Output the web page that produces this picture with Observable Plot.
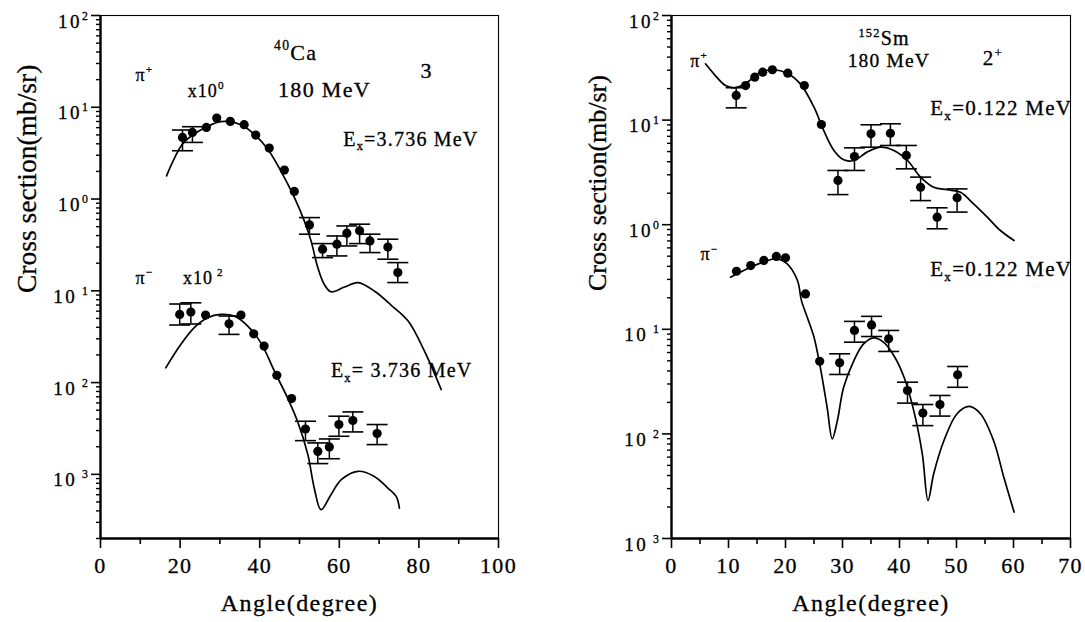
<!DOCTYPE html>
<html>
<head>
<meta charset="utf-8">
<script src="https://cdn.jsdelivr.net/npm/d3@7"></script>
<script src="https://cdn.jsdelivr.net/npm/@observablehq/plot@0.6"></script>
<style>
  body { margin: 0; background: #fff; }
  #fig { position: relative; width: 1085px; height: 622px; background: #fff; }
  #fig svg { position: absolute; top: 0; }
  #fig svg text { font-family: "Liberation Serif", "DejaVu Serif", serif; stroke: black; stroke-width: 0.3px; }
</style>
</head>
<body>
<div id="fig"></div>
<script>
// ---------- 40Ca, 180 MeV, 3- state (Ex = 3.736 MeV) ----------
const caPlusAngle = [20.6, 23.1, 26.6, 29.2, 32.6, 36.1, 39.0, 42.4, 46.2, 48.7, 52.5, 55.8, 59.4, 61.9, 65.1, 67.7, 72.2, 74.7];
const caPlusValue = [4.69, 5.32, 6.03, 7.64, 7.02, 6.46, 4.98, 3.59, 2.07, 1.21, 0.523, 0.284, 0.322, 0.425, 0.45, 0.35, 0.30, 0.158];
const caPlusErrAngle = [20.6, 23.1, 52.5, 55.8, 59.4, 61.9, 65.1, 67.7, 72.2, 74.7];
const caPlusErrLow   = [3.36, 4.14, 0.414, 0.230, 0.240, 0.308, 0.327, 0.261, 0.221, 0.123];
const caPlusErrHigh  = [5.65, 6.14, 0.628, 0.327, 0.396, 0.509, 0.532, 0.414, 0.365, 0.203];
const caPlusCurveAngle = [16.6, 20.6, 23.5, 26.4, 30.2, 35.3, 39.0, 42.0, 45.3, 48.7, 51.2, 52.9, 54.6, 56.2, 57.9, 61.3, 64.7, 68.8, 73.0, 77.3, 81.4, 85.6];
const caPlusCurveValue = [1.79, 3.97, 5.11, 6.03, 6.96, 6.46, 4.90, 3.51, 2.03, 1.04, 0.578, 0.350, 0.179, 0.118, 0.0977, 0.110, 0.123, 0.0995, 0.070, 0.0468, 0.0220, 0.0084];

const caMinusAngle = [19.9, 22.7, 26.4, 32.3, 35.3, 38.5, 41.1, 44.3, 48.0, 51.5, 54.6, 57.5, 59.9, 63.4, 69.5];
const caMinusValue = [0.0553, 0.0587, 0.0544, 0.0437, 0.0544, 0.0340, 0.0250, 0.0120, 0.0067, 0.00312, 0.00178, 0.00199, 0.00349, 0.00386, 0.00278];
const caMinusErrAngle = [19.9, 22.7, 32.3, 51.5, 54.6, 57.5, 59.9, 63.4, 69.5];
const caMinusErrLow   = [0.0424, 0.0435, 0.0335, 0.00233, 0.00131, 0.00148, 0.00260, 0.00290, 0.00211];
const caMinusErrHigh  = [0.0718, 0.0740, 0.0531, 0.00379, 0.00220, 0.00243, 0.00430, 0.00479, 0.00349];
const caMinusCurveAngle = [16.4, 20.2, 23.5, 26.9, 30.2, 33.6, 37.0, 40.3, 43.7, 47.0, 49.5, 52.1, 53.7, 55.4, 57.9, 60.5, 64.7, 68.8, 72.2, 74.3, 75.1];
const caMinusCurveValue = [0.01446, 0.0261, 0.0395, 0.0508, 0.0553, 0.0531, 0.0413, 0.0271, 0.0133, 0.00681, 0.00379, 0.00164, 0.00071, 0.000412, 0.0006, 0.000875, 0.00108, 0.00095, 0.00071, 0.000575, 0.000428];

// ---------- 152Sm, 180 MeV, 2+ state (Ex = 0.122 MeV) ----------
const smPlusAngle = [11.35, 13.0, 14.6, 16.0, 17.7, 20.4, 23.3, 26.3, 29.2, 32.1, 35.0, 38.4, 41.2, 43.7, 46.6, 50.1];
const smPlusValue = [17.2, 21.4, 25.7, 28.7, 30.3, 28.1, 21.4, 9.08, 2.65, 4.49, 7.39, 7.49, 4.59, 2.28, 1.18, 1.81];
const smPlusErrAngle = [11.35, 29.2, 32.1, 35.0, 38.4, 41.2, 43.7, 46.6, 50.1];
const smPlusErrLow   = [13.1, 1.94, 3.30, 5.51, 5.72, 3.42, 1.70, 0.914, 1.32];
const smPlusErrHigh  = [20.4, 3.30, 5.43, 9.02, 9.22, 5.72, 2.85, 1.45, 2.20];
const smPlusCurveAngle = [5.96, 7.42, 9.47, 11.2, 13.3, 15.6, 17.9, 20.3, 22.6, 25.0, 26.7, 28.5, 30.2, 32.0, 34.3, 36.7, 39.0, 41.4, 43.7, 46.0, 48.4, 50.7, 53.0, 55.4, 57.7, 60.1];
const smPlusCurveValue = [34.5, 27.7, 21.4, 20.4, 23.0, 28.7, 30.3, 28.1, 22.2, 13.3, 7.96, 5.12, 4.17, 4.11, 4.94, 5.51, 5.12, 4.11, 2.85, 2.28, 2.16, 2.04, 1.58, 1.18, 0.88, 0.706];

const smMinusAngle = [11.4, 13.9, 16.2, 18.4, 20.0, 23.5, 26.0, 29.5, 32.1, 35.1, 38.1, 41.4, 44.1, 47.1, 50.2];
const smMinusValue = [0.359, 0.407, 0.455, 0.497, 0.483, 0.218, 0.0495, 0.0478, 0.0975, 0.110, 0.0811, 0.0260, 0.0158, 0.0191, 0.0367];
const smMinusErrAngle = [29.5, 32.1, 35.1, 38.1, 41.4, 44.1, 47.1, 50.2];
const smMinusErrLow   = [0.0370, 0.0753, 0.0853, 0.0614, 0.0197, 0.0120, 0.0148, 0.0279];
const smMinusErrHigh  = [0.0583, 0.119, 0.133, 0.0975, 0.0312, 0.0191, 0.0233, 0.0441];
const smMinusCurveAngle = [10.35, 13.3, 16.2, 18.5, 20.3, 22.1, 22.8, 23.8, 25.0, 26.1, 27.3, 28.2, 29.1, 30.2, 32.0, 33.7, 35.5, 37.2, 39.0, 40.8, 42.5, 44.0, 45.0, 46.0, 47.8, 50.1, 52.2, 54.2, 56.5, 58.3, 60.1];
const smMinusCurveValue = [0.315, 0.379, 0.442, 0.472, 0.423, 0.293, 0.188, 0.131, 0.0841, 0.0435, 0.0180, 0.00898, 0.0134, 0.0279, 0.0503, 0.0726, 0.0829, 0.0753, 0.0562, 0.0348, 0.0167, 0.00645, 0.00231, 0.00416, 0.00865, 0.0156, 0.0183, 0.0156, 0.00865, 0.00385, 0.00179];

// ---------- axes ----------
const leftXTicks = [0, 20, 40, 60, 80, 100];
const leftXMinor = [10, 30, 50, 70, 90];
const leftYTicks = [1e2, 1e1, 1e0, 1e-1, 1e-2, 1e-3];
const leftYTickLabels = ["10^{2}", "10^{1}", "10^{0}", "10^{\u20091}", "10^{\u20092}", "10^{\u20093}"];
const rightXTicks = [0, 10, 20, 30, 40, 50, 60, 70];
const rightXMinor = [5, 15, 25, 35, 45, 55, 65];
const rightYTicks = [1e2, 1e1, 1e0, 1e-1, 1e-2, 1e-3];
const rightYTickLabels = ["10^{2}", "10^{1}", "10^{0}", "10^{\u20091}", "10^{\u20092}", "10^{\u20093}"];

// ---------- in-plot annotations (^{..} superscript, _{..} subscript) ----------
const leftNoteText = ["π^{+}", "x10^{0}", "^{40}Ca", "180 MeV", "3", "E_{x}=3.736 MeV", "π^{−}", "x10^{ 2}", "E_{x}= 3.736 MeV"];
const leftNoteAngle = [8.8, 21.9, 43.6, 44.6, 80.4, 61.0, 8.8, 20.7, 57.9];
const leftNoteValue = [19.5, 13.1, 33.1, 13.1, 21.0, 3.81, 0.1186, 0.1186, 0.01145];
const leftNoteSize = [18, 18, 22, 22, 22, 20, 18, 18, 20];

const rightNoteText = ["π^{+}", "^{152}Sm", "180 MeV", "2^{+}", "E_{x}=0.122 MeV", "π^{−}", "E_{x}=0.122 MeV"];
const rightNoteAngle = [3.3, 32.8, 30.9, 54.6, 45.4, 5.1, 45.4];
const rightNoteValue = [32.5, 51.7, 32.5, 33.3, 11.1, 0.455, 0.320];
const rightNoteSize = [18, 20, 19.5, 21, 21, 18, 21];

const xTitle = "Angle(degree)";
const yTitle = "Cross section(mb/sr)";

// ---------- helpers ----------
const rows = (xs, ys) => xs.map((x, i) => ({x, y: ys[i]}));
const errRows = (xs, lo, hi) => xs.map((x, i) => ({x, lo: lo[i], hi: hi[i]}));

// log-scale minor tick positions (2..9 within each decade)
function minorLogTicks(lo, hi) {
  const t = [];
  for (let e = Math.floor(Math.log10(lo)); e < Math.ceil(Math.log10(hi)); ++e)
    for (let k = 2; k <= 9; ++k) {
      const v = k * Math.pow(10, e);
      if (v >= lo * 0.999 && v <= hi) t.push(v);
    }
  return t;
}

// horizontal error-bar cap drawn as a dot symbol
const capSymbol = {
  draw(context, size) {
    const r = Math.sqrt(size / Math.PI);
    context.moveTo(-r, 0);
    context.lineTo(r, 0);
  }
};

const serif = "'Liberation Serif', 'DejaVu Serif', serif";

function panel(o) {
  const yLabel = new Map(o.yTicks.map((d, i) => [d, o.yTickLabels[i]]));
  const noteIdx = o.noteText.map((_, i) => i);
  const marks = [
    Plot.frame({stroke: "black", strokeWidth: 1.1}),
    Plot.axisX({ticks: o.xMinor, tickSize: 6, strokeWidth: 1.6, fill: "none", label: null}),
    Plot.axisX({ticks: o.xTicks, tickSize: 10, tickPadding: 9, strokeWidth: 1.6, fontSize: 22,
                tickFormat: d => String(d), label: null}),
    Plot.axisY({ticks: o.yMinor, tickSize: 4, strokeWidth: 1.4, fill: "none", label: null}),
    Plot.axisY({ticks: o.yTicks, tickSize: 9, strokeWidth: 1.6, fill: "none", label: null}),
    Plot.axisY({ticks: o.yTicks, tickSize: 0, tickPadding: 10, dy: 6, fontSize: 19,
                tickFormat: d => yLabel.get(d), label: null}),
    Plot.ruleX([o.xDomain[0]], {strokeWidth: 2.4}),
    Plot.ruleY([o.yDomain[0]], {strokeWidth: 2.4})
  ];
  for (const s of o.series) {
    marks.push(
      Plot.line(s.curve, {x: "x", y: "y", curve: "catmull-rom", stroke: "black", strokeWidth: 1.7}),
      Plot.ruleX(s.errs, {x: "x", y1: "lo", y2: "hi", stroke: "black", strokeWidth: 1.5}),
      Plot.dot(s.errs, {x: "x", y: "lo", symbol: capSymbol, r: 10.5, fill: "none", stroke: "black", strokeWidth: 1.6}),
      Plot.dot(s.errs, {x: "x", y: "hi", symbol: capSymbol, r: 10.5, fill: "none", stroke: "black", strokeWidth: 1.6}),
      Plot.dot(s.points, {x: "x", y: "y", r: 4.6, fill: "black", stroke: "none"})
    );
  }
  marks.push(
    Plot.text(noteIdx, {
      x: i => o.noteAngle[i], y: i => o.noteValue[i], text: i => o.noteText[i],
      fontSize: i => o.noteSize[i], textAnchor: "start", lineAnchor: "bottom", fill: "black"
    }),
    Plot.text([xTitle], {frameAnchor: "bottom", dy: 72, lineAnchor: "bottom", fontSize: 24, fill: "black"}),
    Plot.text([yTitle], {frameAnchor: "left", rotate: -90, dx: o.yTitleDx, dy: o.yTitleDy, lineAnchor: "bottom",
                         fontSize: o.yTitleSize, fill: "black"})
  );
  return Plot.plot({
    width: o.width,
    height: 622,
    marginLeft: o.marginLeft,
    marginRight: o.marginRight,
    marginTop: 15,
    marginBottom: 84,
    style: {background: "white", color: "black", overflow: "visible", fontFamily: serif},
    x: {domain: o.xDomain},
    y: {type: "log", domain: o.yDomain},
    marks
  });
}

// turn ^{..} / _{..} markup into raised / lowered tspans, then set tracking
function richText(svg) {
  const sel = d3.select(svg);
  sel.selectAll("text").each(function() {
    const s = this.textContent;
    if (!/[\^_]\{/.test(s)) return;
    const fs = parseFloat(getComputedStyle(this).fontSize) || 16;
    this.textContent = "";
    const re = /([\^_])\{([^}]*)\}|([^\^_]+)/g;
    let m, shift = 0;
    while ((m = re.exec(s))) {
      const t = document.createElementNS("http://www.w3.org/2000/svg", "tspan");
      let target = 0;
      if (m[1]) {
        t.textContent = m[2];
        t.setAttribute("font-size", "62%");
        target = m[1] === "^" ? -0.42 * fs : 0.22 * fs;
      } else {
        t.textContent = m[3];
      }
      if (target !== shift) t.setAttribute("dy", target - shift);
      shift = target;
      this.appendChild(t);
    }
  });
  sel.selectAll("text").style("letter-spacing", function() {
    return this.textContent === yTitle ? "0" : "0.06em";
  });
  sel.selectAll('[aria-label="y-axis tick label"] text').style("letter-spacing", "2.5px");
}

const fig = document.getElementById("fig");

const left = panel({
  width: 545, marginLeft: 100, marginRight: 47,
  xDomain: [0, 100], yDomain: [2e-4, 1e2],
  xTicks: leftXTicks, xMinor: leftXMinor,
  yTicks: leftYTicks, yTickLabels: leftYTickLabels, yMinor: minorLogTicks(2e-4, 1e2),
  series: [
    {points: rows(caPlusAngle, caPlusValue), errs: errRows(caPlusErrAngle, caPlusErrLow, caPlusErrHigh),
     curve: rows(caPlusCurveAngle, caPlusCurveValue)},
    {points: rows(caMinusAngle, caMinusValue), errs: errRows(caMinusErrAngle, caMinusErrLow, caMinusErrHigh),
     curve: rows(caMinusCurveAngle, caMinusCurveValue)}
  ],
  noteText: leftNoteText, noteAngle: leftNoteAngle, noteValue: leftNoteValue, noteSize: leftNoteSize,
  yTitleDx: -65, yTitleDy: 16, yTitleSize: 27.5
});
left.style.left = "0px";
fig.appendChild(left);
richText(left);

const right = panel({
  width: 540, marginLeft: 126, marginRight: 15,
  xDomain: [0, 70], yDomain: [1e-3, 1e2],
  xTicks: rightXTicks, xMinor: rightXMinor,
  yTicks: rightYTicks, yTickLabels: rightYTickLabels, yMinor: minorLogTicks(1e-3, 1e2),
  series: [
    {points: rows(smPlusAngle, smPlusValue), errs: errRows(smPlusErrAngle, smPlusErrLow, smPlusErrHigh),
     curve: rows(smPlusCurveAngle, smPlusCurveValue)},
    {points: rows(smMinusAngle, smMinusValue), errs: errRows(smMinusErrAngle, smMinusErrLow, smMinusErrHigh),
     curve: rows(smMinusCurveAngle, smMinusCurveValue)}
  ],
  noteText: rightNoteText, noteAngle: rightNoteAngle, noteValue: rightNoteValue, noteSize: rightNoteSize,
  yTitleDx: -66, yTitleDy: 14, yTitleSize: 26
});
right.style.left = "545px";
fig.appendChild(right);
richText(right);
</script>
</body>
</html>
